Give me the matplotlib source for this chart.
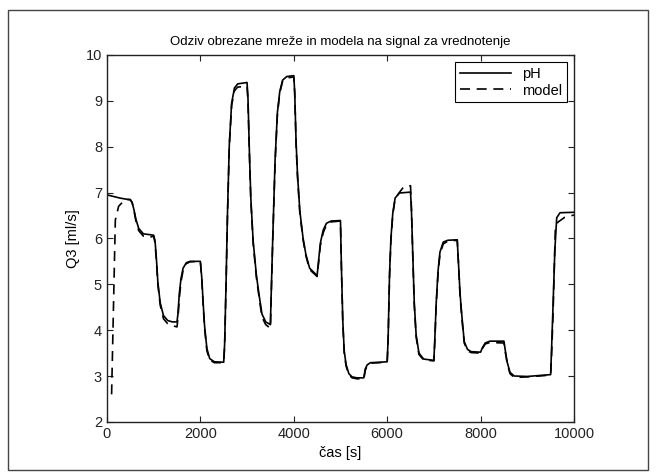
import matplotlib
matplotlib.use("Agg")
import matplotlib.pyplot as plt
from matplotlib.patches import Rectangle

# pH response
t_ph = [0, 280, 500, 540, 580, 620, 680, 780, 1000, 1030, 1060, 1090, 1140, 1210, 1300, 1400,
        1500, 1520, 1550, 1585, 1630, 1700, 1780, 2000, 2030, 2060, 2090, 2140, 2200, 2300,
        2500, 2520, 2550, 2580, 2620, 2670, 2730, 2800, 3000, 3020, 3050, 3080, 3130, 3200,
        3260, 3320, 3400, 3500, 3520, 3550, 3600, 3650, 3700, 3760, 3850, 4000, 4020, 4050,
        4080, 4130, 4200, 4260, 4340, 4500, 4530, 4570, 4630, 4700, 4800, 5000, 5020, 5050,
        5080, 5120, 5180, 5250, 5350, 5500, 5530, 5570, 5640, 6000, 6020, 6050, 6080, 6120,
        6170, 6260, 6500, 6520, 6550, 6580, 6620, 6680, 6780, 7000, 7020, 7050, 7090, 7130,
        7200, 7300, 7500, 7530, 7560, 7600, 7650, 7720, 7800, 8000, 8040, 8100, 8200, 8500,
        8530, 8570, 8630, 8720, 9000, 9500, 9520, 9550, 9590, 9630, 9700, 10000]
y_ph = [6.95, 6.88, 6.84, 6.78, 6.62, 6.42, 6.22, 6.10, 6.07, 5.95, 5.55, 5.05, 4.60, 4.32, 4.21, 4.18,
        4.18, 4.35, 4.80, 5.12, 5.35, 5.47, 5.50, 5.50, 5.15, 4.60, 4.10, 3.60, 3.38, 3.31,
        3.30, 3.70, 5.00, 6.50, 8.05, 8.95, 9.28, 9.37, 9.40, 9.05, 7.90, 6.90, 5.95, 5.20,
        4.75, 4.35, 4.18, 4.12, 4.90, 6.00, 7.70, 8.75, 9.20, 9.45, 9.53, 9.55, 9.20, 8.10,
        7.40, 6.60, 6.00, 5.65, 5.35, 5.19, 5.50, 5.90, 6.18, 6.33, 6.38, 6.39, 5.40, 4.20,
        3.55, 3.25, 3.05, 2.98, 2.96, 2.96, 3.15, 3.24, 3.29, 3.31, 3.80, 5.20, 6.00, 6.55,
        6.88, 6.99, 7.01, 6.60, 5.60, 4.60, 3.90, 3.50, 3.37, 3.34, 3.80, 4.60, 5.30, 5.70,
        5.92, 5.96, 5.97, 5.40, 4.80, 4.30, 3.75, 3.58, 3.53, 3.52, 3.62, 3.72, 3.76, 3.76,
        3.55, 3.30, 3.08, 3.00, 2.99, 3.03, 3.60, 4.50, 5.75, 6.45, 6.56, 6.57]

# model response
t_model = [100, 140, 180, 250, 390, 500, 540, 580, 620, 680, 780, 900, 1000, 1030, 1060, 1090,
           1140, 1210, 1300, 1400, 1500, 1520, 1550, 1585, 1630, 1700, 1780, 2000, 2030, 2060,
           2090, 2140, 2200, 2300, 2500, 2520, 2550, 2580, 2620, 2670, 2730, 2800, 3000, 3020,
           3050, 3080, 3130, 3200, 3260, 3320, 3400, 3500, 3520, 3550, 3600, 3650, 3700, 3760,
           3850, 4000, 4020, 4050, 4080, 4130, 4200, 4260, 4340, 4500, 4530, 4570, 4630, 4700,
           4800, 5000, 5020, 5050, 5080, 5120, 5180, 5250, 5350, 5500, 5530, 5570, 5640, 6000,
           6020, 6050, 6080, 6120, 6170, 6260, 6350, 6500, 6520, 6550, 6580, 6620, 6680, 6780,
           7000, 7020, 7050, 7090, 7130, 7200, 7300, 7500, 7530, 7560, 7600, 7650, 7720, 7800,
           8000, 8040, 8100, 8200, 8500, 8530, 8570, 8630, 8720, 9000, 9500, 9520, 9550, 9600,
           9650, 9800, 10000]
y_model = [2.60, 4.50, 6.40, 6.70, 6.85, 6.85, 6.78, 6.60, 6.38, 6.17, 6.05, 6.02, 6.05, 5.90, 5.50, 5.00,
           4.55, 4.25, 4.14, 4.10, 4.07, 4.25, 4.70, 5.05, 5.30, 5.45, 5.49, 5.50, 5.12, 4.55,
           4.05, 3.55, 3.35, 3.29, 3.29, 3.65, 4.95, 6.45, 8.00, 8.90, 9.22, 9.30, 9.32, 9.00,
           7.85, 6.85, 5.90, 5.15, 4.70, 4.28, 4.12, 4.04, 4.85, 5.95, 7.65, 8.70, 9.17, 9.42,
           9.50, 9.52, 9.17, 8.05, 7.35, 6.55, 5.97, 5.62, 5.32, 5.17, 5.45, 5.85, 6.12, 6.30,
           6.36, 6.38, 5.38, 4.15, 3.50, 3.22, 3.02, 2.96, 2.94, 2.93, 3.12, 3.22, 3.28, 3.30,
           3.75, 5.15, 5.95, 6.52, 6.86, 7.00, 7.12, 7.15, 6.65, 5.55, 4.55, 3.85, 3.47, 3.35,
           3.33, 3.75, 4.55, 5.25, 5.65, 5.88, 5.94, 5.96, 5.38, 4.75, 4.25, 3.72, 3.55, 3.51,
           3.50, 3.60, 3.70, 3.73, 3.72, 3.52, 3.27, 3.05, 2.97, 2.98, 3.02, 3.45, 4.30, 6.20,
           6.35, 6.46, 6.51]

plt.rcParams['font.family'] = ['Liberation Sans', 'DejaVu Sans']
plt.rcParams['font.size'] = 10.5

fig = plt.figure(figsize=(6.56, 4.74), dpi=100)
ax = fig.add_axes([0.163, 0.110, 0.712, 0.774])

ax.plot(t_ph, y_ph, '-', color='black', lw=1.2, label='pH')
ax.plot(t_model, y_model, '--', color='black', lw=1.2, dashes=(6, 4), label='model')

ax.set_xlim(0, 10000)
ax.set_ylim(2, 10)
ax.set_xticks([0, 2000, 4000, 6000, 8000, 10000])
ax.set_yticks(range(2, 11))
ax.tick_params(direction='in', top=True, right=True, length=4, colors='#222222')
for s in ax.spines.values():
    s.set_linewidth(1.0)
    s.set_color('#222222')

ax.set_title('Odziv obrezane mreže in modela na signal za vrednotenje', fontsize=9.5, pad=7)
ax.set_xlabel('čas [s]')
ax.set_ylabel('Q3 [ml/s]')

leg = ax.legend(loc='upper right', fancybox=False, framealpha=1, edgecolor='black',
                handlelength=3.5, borderaxespad=0.5, borderpad=0.3, labelspacing=0.2)
leg.get_frame().set_linewidth(0.8)

# outer frame around the figure
fig.patches.append(Rectangle((8 / 656, 4 / 474), 640 / 656, 460 / 474, transform=fig.transFigure,
                             fill=False, edgecolor='#444444', lw=1.0))

fig.savefig('out.png', dpi=100)
